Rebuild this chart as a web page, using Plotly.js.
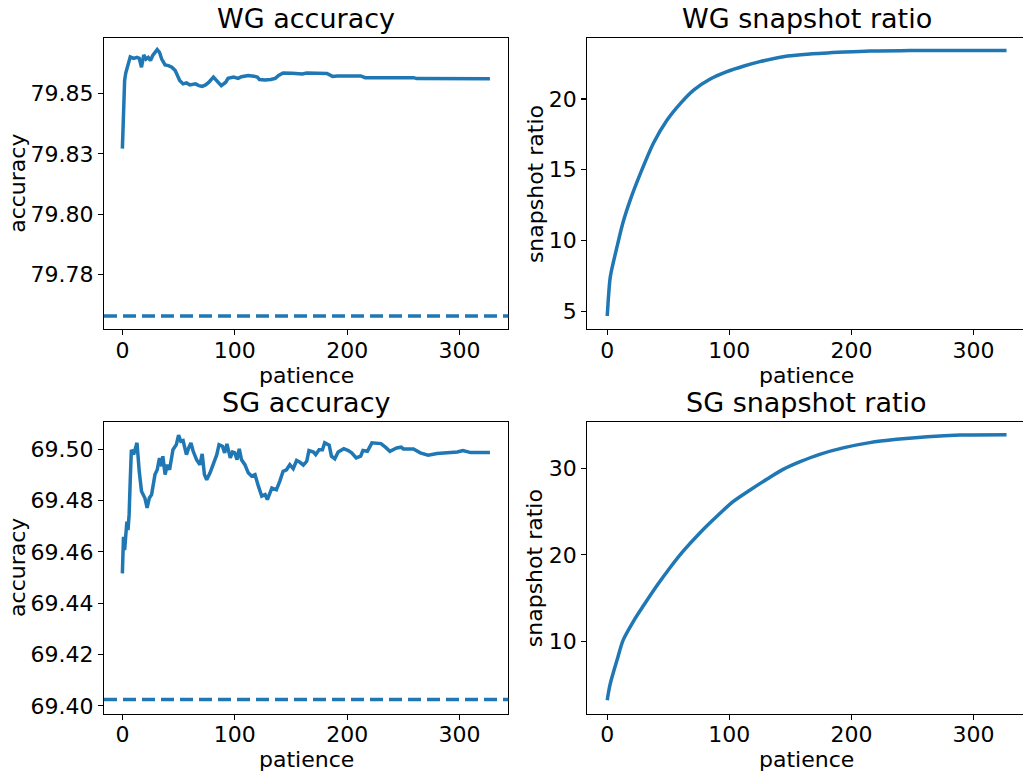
<!DOCTYPE html>
<html><head><meta charset="utf-8">
<script src="https://cdn.plot.ly/plotly-3.0.1.min.js"></script>
<style>html,body{margin:0;padding:0;overflow:hidden;background:#fff}#chart{width:1030px;height:771px}</style>
</head><body><div id="chart"></div>
<script>
// ---- data ----
const wgAccX = [0,1,2,3,5,7,10,13,15,17,19,21,23,25,27,29,31,33,35,38,41,44,47,49,51,54,57,60,65,68,71,74,77,81,84,88,92,94,99,103,106,112,117,120,122,127,132,136,139,143,151,160,164,172,182,187,191,212,216,259,262,327];
const wgAccY = [79.8272,79.8450,79.8555,79.8585,79.8620,79.8652,79.8646,79.8650,79.8646,79.8609,79.8660,79.8643,79.8650,79.8637,79.8658,79.8671,79.8682,79.8671,79.8643,79.8619,79.8616,79.8609,79.8595,79.8575,79.8554,79.8540,79.8544,79.8536,79.8540,79.8533,79.8530,79.8536,79.8547,79.8568,79.8554,79.8533,79.8547,79.8563,79.8568,79.8563,79.8570,79.8575,79.8572,79.8568,79.8558,79.8556,79.8558,79.8563,79.8575,79.8585,79.8584,79.8581,79.8585,79.8585,79.8583,79.8571,79.8573,79.8573,79.8566,79.8566,79.8562,79.8561];
const wgBaseline = [79.7578];

const sgAccX = [0,1,2,3,4,5,6,7,8,10,13,15,17,20,22,24,26,29,31,33,35,36,38,40,42,45,48,50,52,54,57,59,61,63,66,69,71,73,75,78,81,84,86,89,91,93,96,98,100,102,104,106,109,112,115,118,121,124,127,129,133,137,140,143,146,149,152,155,158,161,164,166,170,172,175,178,180,184,186,189,192,197,201,204,208,212,214,218,222,227,230,234,238,244,248,250,259,265,272,280,292,298,303,307,310,327];
const sgAccY = [69.4516,69.4659,69.4607,69.4685,69.4718,69.4685,69.4745,69.4880,69.4998,69.4979,69.5025,69.4914,69.4836,69.4810,69.4771,69.4810,69.4823,69.4901,69.4920,69.4966,69.4934,69.4973,69.4901,69.4940,69.4920,69.4998,69.5018,69.5055,69.5031,69.5034,69.4979,69.5005,69.5025,69.4992,69.4959,69.4940,69.4982,69.4901,69.4881,69.4908,69.4940,69.4979,69.5018,69.5012,69.4986,69.5021,69.4966,69.4989,69.4986,69.4959,69.5002,69.4959,69.4940,69.4908,69.4895,69.4901,69.4856,69.4817,69.4823,69.4804,69.4849,69.4842,69.4875,69.4914,69.4920,69.4940,69.4924,69.4956,69.4949,69.4938,69.4953,69.4995,69.4989,69.4979,69.4998,69.4998,69.5025,69.5016,69.4973,69.4963,69.4989,69.5002,69.4995,69.4986,69.4966,69.4973,69.4995,69.4992,69.5025,69.5021,69.5022,69.5008,69.4992,69.5005,69.5008,69.5001,69.5001,69.4986,69.4977,69.4983,69.4986,69.4989,69.4995,69.4992,69.4987,69.4987];
const sgBaseline = [69.4025];

const wgRatioX = [0,1,2.5,8,13,19,27,38,49,60,71,84,98,112,125,144,166,194,215,248,327];
const wgRatioY = [4.65,6.0,7.43,9.55,11.3,12.9,14.7,16.9,18.51,19.69,20.64,21.39,21.93,22.33,22.64,22.99,23.18,23.32,23.40,23.42,23.42];

const sgRatioX = [0,1,2.5,8,13,22,30,41,52,62,76,90,103,117,131,144,158,174,194,215,237,262,289,327];
const sgRatioY = [3.21,4.1,5.14,7.84,10.15,12.46,14.2,16.51,18.63,20.4,22.56,24.49,26.15,27.5,28.77,29.88,30.77,31.62,32.39,32.97,33.35,33.66,33.85,33.89];

const titles = ["WG accuracy","WG snapshot ratio","SG accuracy","SG snapshot ratio"];
const yTitles = ["accuracy","snapshot ratio","accuracy","snapshot ratio"];
const xTitle = "patience";
const wgAccTickVals = [79.775,79.8,79.825,79.85];
const wgAccTickText = ["79.78","79.80","79.83","79.85"];

// ---- layout ----
const W = 1030, H = 771;
const BLUE = "#1f77b4";
const FONT = "DejaVu Sans, sans-serif";
const px = v => v / W, py = v => 1 - v / H;

const colX = [[104, 508.3], [587.3, 1026.5]];
const rowY = [[38.3, 329.3], [422.3, 713.5]];

function baseAxis(extra) {
  return Object.assign({
    showgrid: false, zeroline: false, showline: true, linecolor: "#000", linewidth: 1.1,
    mirror: true, ticks: "outside", ticklen: 5, tickwidth: 1.1, tickcolor: "#000",
    tickfont: {family: FONT, size: 22, color: "#000"}, fixedrange: true
  }, extra);
}
const xRange = [-16.35, 343.35];
const xExtra = {tick0: 0, dtick: 100, ticklabelstandoff: -4};

const layout = {
  width: W, height: H, margin: {l: 0, r: 0, t: 0, b: 0},
  paper_bgcolor: "#fff", plot_bgcolor: "#fff", showlegend: false,
  font: {family: FONT, color: "#000"},
  xaxis:  baseAxis(Object.assign({domain: [px(colX[0][0]), px(colX[0][1])], range: xRange, anchor: "y"}, xExtra)),
  yaxis:  baseAxis({domain: [py(rowY[0][1]), py(rowY[0][0])], range: [79.7523, 79.8729], anchor: "x", tickmode: "array", tickvals: wgAccTickVals, ticktext: wgAccTickText}),
  xaxis2: baseAxis(Object.assign({domain: [px(colX[1][0]), px(colX[1][1])], range: xRange, anchor: "y2"}, xExtra)),
  yaxis2: baseAxis({domain: [py(rowY[0][1]), py(rowY[0][0])], range: [3.71, 24.29], anchor: "x2", tick0: 0, dtick: 5}),
  xaxis3: baseAxis(Object.assign({domain: [px(colX[0][0]), px(colX[0][1])], range: xRange, anchor: "y3"}, xExtra)),
  yaxis3: baseAxis({domain: [py(rowY[1][1]), py(rowY[1][0])], range: [69.397, 69.5105], anchor: "x3", tick0: 69.40, dtick: 0.02, tickformat: ".2f"}),
  xaxis4: baseAxis(Object.assign({domain: [px(colX[1][0]), px(colX[1][1])], range: xRange, anchor: "y4"}, xExtra)),
  yaxis4: baseAxis({domain: [py(rowY[1][1]), py(rowY[1][0])], range: [1.67, 35.32], anchor: "x4", tick0: 0, dtick: 10}),
  shapes: [
    {type: "line", xref: "x domain", yref: "y",  x0: 0, x1: 1, y0: wgBaseline[0], y1: wgBaseline[0], line: {color: BLUE, width: 3.5, dash: "13px,6px"}},
    {type: "line", xref: "x3 domain", yref: "y3", x0: 0, x1: 1, y0: sgBaseline[0], y1: sgBaseline[0], line: {color: BLUE, width: 3.5, dash: "13px,6px"}}
  ],
  annotations: []
};

// titles & axis labels
const cells = [[0,0],[1,0],[0,1],[1,1]];
cells.forEach(([c, r], i) => {
  const cxAxis = px((colX[c][0] + colX[c][1]) / 2);
  layout.annotations.push({text: titles[i], xref: "paper", yref: "paper", x: cxAxis, y: py(rowY[r][0]),
    xanchor: "center", yanchor: "bottom", yshift: 2, showarrow: false, font: {family: FONT, size: 27, color: "#000"}});
  layout.annotations.push({text: xTitle, xref: "paper", yref: "paper", x: cxAxis, y: py(rowY[r][1] + 46),
    xanchor: "center", yanchor: "middle", showarrow: false, font: {family: FONT, size: 22, color: "#000"}});
  layout.annotations.push({text: yTitles[i], xref: "paper", yref: "paper", x: px(colX[c][0] - (c === 0 ? 86 : 52)), y: py((rowY[r][0] + rowY[r][1]) / 2),
    xanchor: "center", yanchor: "middle", textangle: -90, showarrow: false, font: {family: FONT, size: 22, color: "#000"}});
});

const lineStyle = {color: BLUE, width: 3.5};
const data = [
  {x: wgAccX,   y: wgAccY,   xaxis: "x",  yaxis: "y",  type: "scatter", mode: "lines", line: lineStyle},
  {x: wgRatioX, y: wgRatioY, xaxis: "x2", yaxis: "y2", type: "scatter", mode: "lines", line: Object.assign({shape: "spline", smoothing: 0.8}, lineStyle)},
  {x: sgAccX,   y: sgAccY,   xaxis: "x3", yaxis: "y3", type: "scatter", mode: "lines", line: lineStyle},
  {x: sgRatioX, y: sgRatioY, xaxis: "x4", yaxis: "y4", type: "scatter", mode: "lines", line: Object.assign({shape: "spline", smoothing: 0.8}, lineStyle)}
];

Plotly.newPlot("chart", data, layout, {displayModeBar: false, staticPlot: true});
</script></body></html>
